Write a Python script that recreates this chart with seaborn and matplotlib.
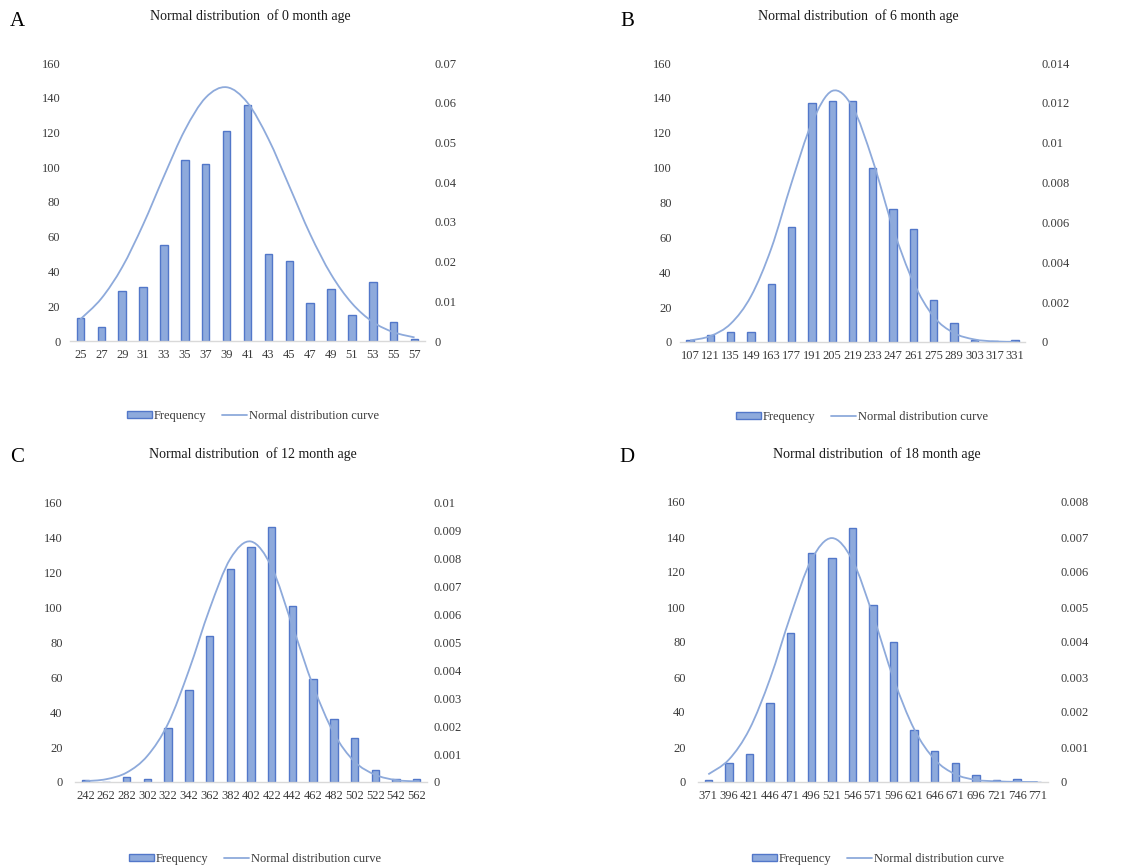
import numpy as np
import pandas as pd
import matplotlib
matplotlib.use("Agg")
import matplotlib.pyplot as plt
from matplotlib.patches import Patch, PathPatch
from matplotlib.path import Path
from matplotlib.lines import Line2D
import seaborn as sns

sns.set_style("white")
plt.rcParams["font.family"] = ["Liberation Serif", "DejaVu Serif"]

# ---------------- data ----------------
titles = ["Normal distribution  of 0 month age",
          "Normal distribution  of 6 month age",
          "Normal distribution  of 12 month age",
          "Normal distribution  of 18 month age"]
letters = ["A", "B", "C", "D"]

cats_a = [25, 27, 29, 31, 33, 35, 37, 39, 41, 43, 45, 47, 49, 51, 53, 55, 57]
freq_a = [13, 8, 29, 31, 55, 104, 102, 121, 136, 50, 46, 22, 30, 15, 34, 11, 1]
curve_a = [0.0055, 0.0107, 0.0186, 0.0293, 0.0415, 0.0531, 0.0613, 0.0639, 0.0600,
           0.0509, 0.0390, 0.0269, 0.0168, 0.0095, 0.0048, 0.0022, 0.0009]

cats_b = [107, 121, 135, 149, 163, 177, 191, 205, 219, 233, 247, 261, 275, 289, 303, 317, 331]
freq_b = [1, 4, 6, 6, 33, 66, 137, 138, 138, 100, 76, 65, 24, 11, 1, 0.5, 1]
curve_b = [0.00008, 0.0003, 0.00092, 0.0023, 0.0047, 0.0080, 0.0110, 0.0126, 0.0118,
           0.0091, 0.0057, 0.0030, 0.00127, 0.00045, 0.00013, 0.00003, 0.00001]

cats_c = [242, 262, 282, 302, 322, 342, 362, 382, 402, 422, 442, 462, 482, 502, 522, 542, 562]
freq_c = [1, 0, 3, 2, 31, 53, 84, 122, 135, 146, 101, 59, 36, 25, 7, 2, 2]
curve_c = [0.00003, 0.0001, 0.00034, 0.00094, 0.0021, 0.0040, 0.0062, 0.0080, 0.00862,
           0.0077, 0.0056, 0.00345, 0.00175, 0.00073, 0.00026, 0.00007, 0.00002]

cats_d = [371, 396, 421, 446, 471, 496, 521, 546, 571, 596, 621, 646, 671, 696, 721, 746, 771]
freq_d = [1, 11, 16, 45, 85, 131, 128, 145, 101, 80, 30, 18, 11, 4, 1, 2, 0]
curve_d = [0.00022, 0.00064, 0.00151, 0.00295, 0.00476, 0.00634, 0.00697, 0.00634, 0.00476,
           0.00295, 0.00151, 0.00064, 0.00022, 0.00006, 0.00002, 0.000003, 0.0]

left_ticks = [0, 20, 40, 60, 80, 100, 120, 140, 160]
right_ticks_a = ["0", "0.01", "0.02", "0.03", "0.04", "0.05", "0.06", "0.07"]
right_ticks_b = ["0", "0.002", "0.004", "0.006", "0.008", "0.01", "0.012", "0.014"]
right_ticks_c = ["0", "0.001", "0.002", "0.003", "0.004", "0.005", "0.006", "0.007",
                 "0.008", "0.009", "0.01"]
right_ticks_d = ["0", "0.001", "0.002", "0.003", "0.004", "0.005", "0.006", "0.007", "0.008"]

legend_labels = ["Frequency", "Normal distribution curve"]

panels = [
    (cats_a, freq_a, curve_a, right_ticks_a),
    (cats_b, freq_b, curve_b, right_ticks_b),
    (cats_c, freq_c, curve_c, right_ticks_c),
    (cats_d, freq_d, curve_d, right_ticks_d),
]

# ---------------- layout (pixels) ----------------
W, H = 1131, 868
boxes = [(70, 425, 63, 341), (680, 1025, 63, 342), (75, 427, 503, 782), (698, 1048, 502, 782)]
title_pos = [(250, 16), (858, 16), (253, 454), (877, 454)]
letter_pos = [(17, 22), (627, 22), (17, 457), (627, 457)]
legend_pos = [(253, 416), (862, 417), (255, 859), (878, 859)]
rpads = [7, 12, 5, 9]
lpads = [7, 6, 9, 9]

bar_face = "#8eaadc"
bar_edge = "#5277c9"
line_col = "#8eaadb"
text_col = "#3a3a3a"


def smooth_path(xs, ys):
    """Excel-style smoothed line through the given points (cubic Bezier)."""
    pts = np.column_stack([xs, ys]).astype(float)
    n = len(pts)
    verts = [pts[0]]
    codes = [Path.MOVETO]
    for k in range(n - 1):
        p0 = pts[max(k - 1, 0)]
        p1 = pts[k]
        p2 = pts[k + 1]
        p3 = pts[min(k + 2, n - 1)]
        c1 = p1 + (p2 - p0) / 6.0
        c2 = p2 - (p3 - p1) / 6.0
        verts += [c1, c2, p2]
        codes += [Path.CURVE4] * 3
    return Path(verts, codes)


fig = plt.figure(figsize=(W / 100, H / 100), dpi=100)

for i, (cats, freq, curve, rticks) in enumerate(panels):
    xl, xr, yt, yb = boxes[i]
    ax = fig.add_axes([xl / W, (H - yb) / H, (xr - xl) / W, (yb - yt) / H])
    df = pd.DataFrame({"cat": [str(c) for c in cats], "freq": freq})
    sns.barplot(data=df, x="cat", y="freq", ax=ax, width=0.36, color=bar_face,
                edgecolor=bar_edge, linewidth=1.0, saturation=1)
    ax.set_xlim(-0.5, len(cats) - 0.5)
    ax.set_ylim(0, 160)
    ax.set_yticks(left_ticks)
    ax.set_yticklabels([str(t) for t in left_ticks])
    ax.set_xlabel("")
    ax.set_ylabel("")
    for s in ["top", "right", "left"]:
        ax.spines[s].set_visible(False)
    ax.spines["bottom"].set_color("#d9d9d9")
    ax.spines["bottom"].set_linewidth(1.0)
    ax.tick_params(axis="both", length=0, labelsize=9, colors=text_col)
    ax.tick_params(axis="y", pad=lpads[i])
    ax.tick_params(axis="x", pad=6)

    ax2 = ax.twinx()
    pos = np.arange(len(cats))
    ax2.add_patch(PathPatch(smooth_path(pos, curve), facecolor="none",
                            edgecolor=line_col, linewidth=1.3))
    rvals = [float(t) for t in rticks]
    ax2.set_ylim(0, rvals[-1])
    ax2.set_yticks(rvals)
    ax2.set_yticklabels(rticks)
    ax2.set_xlim(-0.5, len(cats) - 0.5)
    for s in ["top", "right", "left", "bottom"]:
        ax2.spines[s].set_visible(False)
    ax2.tick_params(axis="y", length=0, labelsize=9, colors=text_col, pad=rpads[i])

    tx, ty = title_pos[i]
    fig.text(tx / W, 1 - ty / H, titles[i], ha="center", va="center", fontsize=10,
             color="#1a1a1a")
    lx, ly = letter_pos[i]
    fig.text(lx / W, 1 - ly / H, letters[i], ha="center", va="center", fontsize=15,
             color="black")

    handles = [Patch(facecolor=bar_face, edgecolor=bar_edge, linewidth=1.0),
               Line2D([0], [0], color=line_col, linewidth=1.3)]
    gx, gy = legend_pos[i]
    fig.legend(handles, legend_labels, loc="center", bbox_to_anchor=(gx / W, 1 - gy / H),
               ncol=2, frameon=False, fontsize=9, handlelength=2.0, handleheight=0.5,
               handletextpad=0.1, columnspacing=1.3, labelcolor=text_col)

fig.savefig("out.png", dpi=100)
